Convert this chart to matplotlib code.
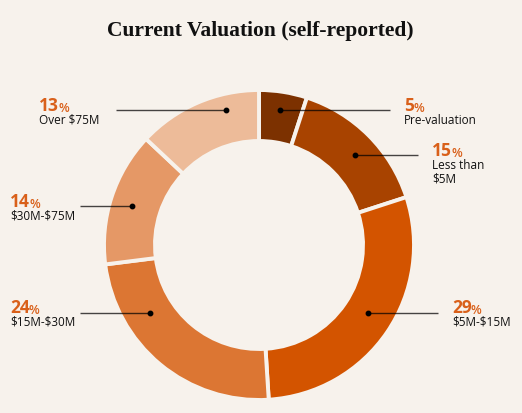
import matplotlib.pyplot as plt

# data
labels = ["Pre-valuation", "Less than\n\\$5M", "\\$5M-\\$15M", "\\$15M-\\$30M", "\\$30M-\\$75M", "Over \\$75M"]
values = [5, 15, 29, 24, 14, 13]
colors = ["#7C3100", "#A84300", "#D35400", "#DC7633", "#E59866", "#EDBB99"]

W, H = 522, 413
bg = "#F7F2EC"
orange = "#D9601A"

fig = plt.figure(figsize=(W / 100, H / 100), dpi=100, facecolor=bg)
ax = fig.add_axes([0, 0, 1, 1])
ax.set_facecolor(bg)

def Y(y):
    # pixel row -> data y
    return H - y

cx, cy = 259, 245
r_out, r_in = 155, 104
ax.pie(values, colors=colors, startangle=90, counterclock=False,
       center=(cx, Y(cy)), radius=r_out, frame=True,
       wedgeprops=dict(width=r_out - r_in, edgecolor=bg, linewidth=2.8))
ax.set_xlim(0, W)
ax.set_ylim(0, H)
ax.axis("off")

# label layout: text x, number baseline, line y, line x0, line x1, dot x
layout = [
    (404, 111, 110, 280, 390, 280),
    (432, 156, 155, 355, 418, 355),
    (452, 313, 313, 368, 438, 368),
    (10, 313, 313, 80, 150, 150),
    (10, 207, 206, 80, 132, 132),
    (39, 111, 110, 116, 226, 226),
]

for lab, val, (tx, ty, ly, x0, x1, dx) in zip(labels, values, layout):
    ax.plot([x0, x1], [Y(ly), Y(ly)], color="black", alpha=0.72, lw=1.0,
            solid_capstyle="butt")
    ax.plot(dx, Y(ly), "o", color="black", ms=3.2)
    num = ax.text(tx, Y(ty), str(val), fontsize=12.5, color=orange,
                  family="Open Sans", weight="bold", va="baseline")
    ax.annotate("%", xy=(1, 0), xycoords=num, xytext=(-0.6, 0),
                textcoords="offset points", fontsize=9, color=orange,
                family="Open Sans", weight="semibold", va="bottom")
    for i, line in enumerate(lab.split("\n")):
        ax.text(tx, Y(ty + 13 + 13.5 * i), line, fontsize=8.5, color="#111111",
                family="Open Sans", va="baseline")

fig.text(260 / W, 1 - 36 / H, "Current Valuation (self-reported)",
         ha="center", va="baseline", fontsize=15.5, weight="bold",
         family="Liberation Serif", color="#111111")

fig.savefig("out.png", dpi=100, facecolor=bg)
